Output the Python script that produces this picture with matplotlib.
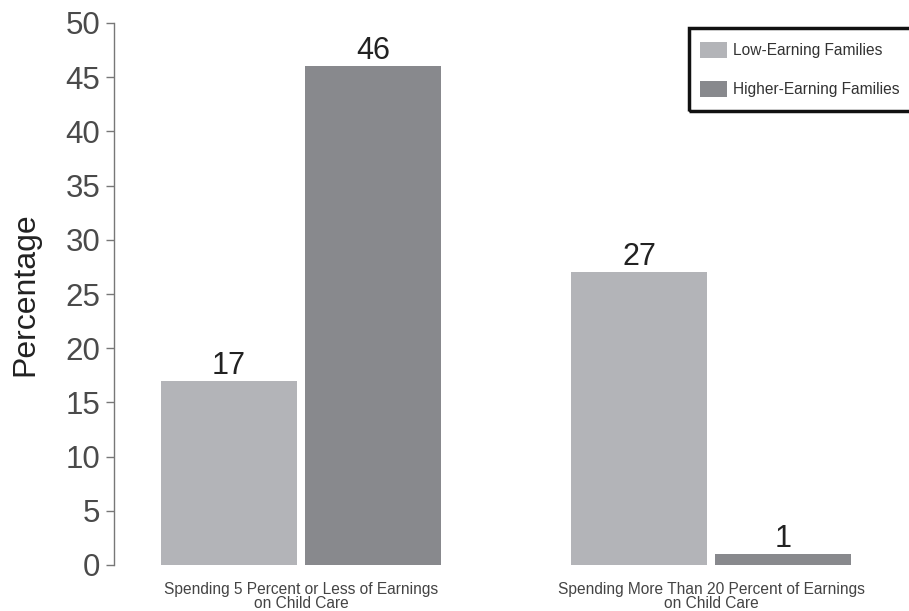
import matplotlib.pyplot as plt
from matplotlib.patches import Rectangle, Patch
import numpy as np

# data
categories = ["Spending 5 Percent or Less of Earnings\non Child Care",
              "Spending More Than 20 Percent of Earnings\non Child Care"]
series_names = ["Low-Earning Families", "Higher-Earning Families"]
low_earning = [17, 27]
higher_earning = [46, 1]
yticks = [0, 5, 10, 15, 20, 25, 30, 35, 40, 45, 50]

colors = ["#b3b4b8", "#88898d"]
W, H = 909, 611

plt.rcParams['font.family'] = ['Liberation Sans', 'DejaVu Sans']

fig = plt.figure(figsize=(W / 100, H / 100), dpi=100)
ax = fig.add_axes([114 / W, 1 - 565 / H, 1 - 114 / W, (565 - 23) / H])

x = np.arange(len(categories))
width = 0.332
offset = 0.1756

bars_low = ax.bar(x - offset, low_earning, width, color=colors[0])
bars_high = ax.bar(x + offset, higher_earning, width, color=colors[1])

# value labels above bars
for bars, vals in ((bars_low, low_earning), (bars_high, higher_earning)):
    for b, v in zip(bars, vals):
        ax.annotate(str(v), (b.get_x() + b.get_width() / 2, v),
                    xytext=(0, 0), textcoords="offset points",
                    ha="center", va="bottom", fontsize=22, color="#222222")

ax.set_xlim(-0.456, 1.483)
ax.set_ylim(0, 50)
ax.set_yticks(yticks)
ax.tick_params(axis="y", labelsize=22.5, labelcolor="#4a4a4a", color="#777777",
               length=6, width=1, direction="out", pad=4)
ax.set_ylabel("Percentage", fontsize=23, color="#222222", labelpad=18)

ax.set_xticks(x)
ax.set_xticklabels(categories, fontsize=11.2, color="#444444", linespacing=0.95)
ax.tick_params(axis="x", length=0, pad=12)

for side in ("top", "right", "bottom"):
    ax.spines[side].set_visible(False)
ax.spines["left"].set_color("#777777")
ax.spines["left"].set_linewidth(1)

# legend box, runs off the right edge
fig.patches.append(Rectangle((689 / W, 1 - 111 / H), 240 / W, 83 / H,
                             transform=fig.transFigure, fill=False,
                             edgecolor="#111111", linewidth=2.5))
handles = [Patch(facecolor=c, edgecolor="none") for c in colors]
fig.legend(handles, series_names, loc="upper left",
           bbox_to_anchor=(700 / W, 1 - 42 / H), frameon=False,
           fontsize=11.2, labelcolor="#333333", handlelength=1.75,
           handleheight=1.25, handletextpad=0.4, labelspacing=1.45,
           borderaxespad=0, borderpad=0)

fig.savefig("out.png", dpi=100)
